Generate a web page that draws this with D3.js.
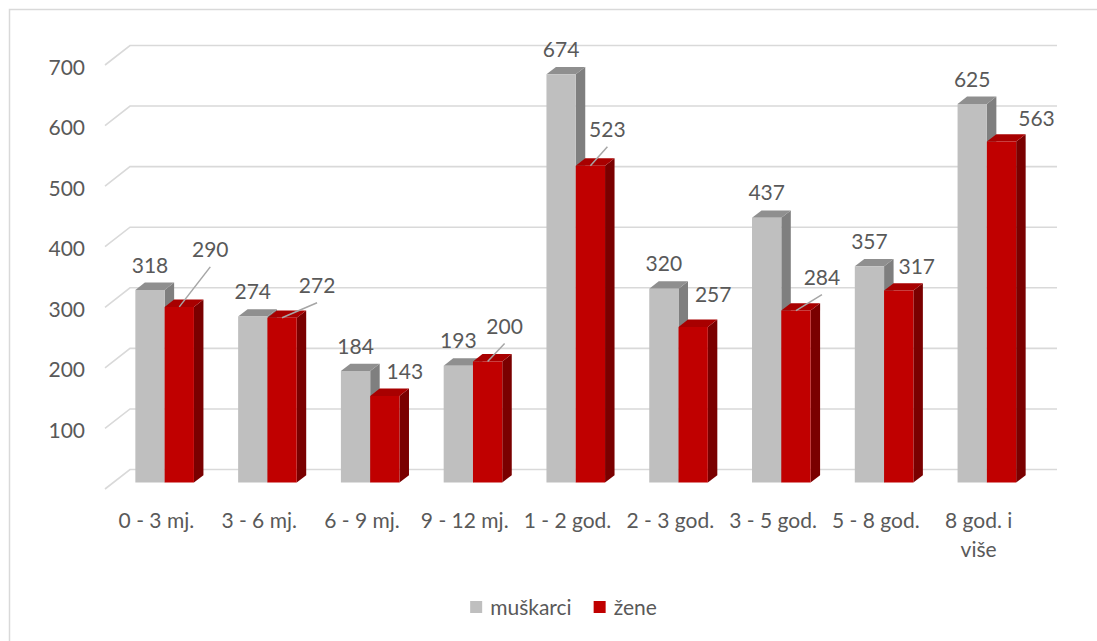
<!DOCTYPE html>
<meta charset="utf-8" />
<style>
  body { margin: 0; background: #fff; }
  text { font-family: Lato, "Open Sans", sans-serif; fill: #595959; }
  .grid { fill: none; stroke: #d9d9d9; stroke-width: 1.6px; }
  .leader { stroke: #a6a6a6; stroke-width: 1.5px; }
</style>
<body>
<script src="https://d3js.org/d3.v7.min.js"></script>
<script>
  // data
  var categories = ['0 - 3 mj.', '3 - 6 mj.', '6 - 9 mj.', '9 - 12 mj.', '1 - 2 god.',
    '2 - 3 god.', '3 - 5 god.', '5 - 8 god.', '8 god. i|više'];
  var seriesNames = ['muškarci', 'žene'];
  var muskarci = [318, 274, 184, 193, 674, 320, 437, 357, 625];
  var zene = [290, 272, 143, 200, 523, 257, 284, 317, 563];
  var yTicks = [100, 200, 300, 400, 500, 600, 700];

  // labels of the red series were dragged in the original; offsets from default spot
  var zeneLabelShift = [[31, -32], [35, -7], [20, 0], [17, -10], [17, -11], [20, -7], [26, -8], [18, 1], [35, 2]];
  var zeneLeader = [true, true, false, true, true, false, true, false, false];

  var width = 1097, height = 641;
  var depth = { dx: 25, dy: -19.5 };   // full floor depth on screen
  var barZ0 = 0.33, barZ1 = 0.71;      // bars stand in the middle of the floor

  var colors = {
    'muškarci': { front: '#bfbfbf', top: '#8f8f8f', side: '#7f7f7f' },
    'žene': { front: '#c00000', top: '#a80000', side: '#7a0000' }
  };

  var svg = d3.select('body').append('svg')
    .attr('width', width)
    .attr('height', height);

  // chart border (right and bottom edges fall outside the shot)
  svg.append('path')
    .attr('d', 'M9.5,' + (height + 5) + 'V9.5H' + (width + 5))
    .attr('fill', 'none')
    .attr('stroke', '#d9d9d9')
    .attr('stroke-width', 1.5);

  var x = d3.scaleBand()
    .domain(categories)
    .range([105, 1030])
    .paddingInner(0.43)
    .paddingOuter(0.215);

  var xs = d3.scaleBand()
    .domain(seriesNames)
    .range([0, x.bandwidth()]);

  var y = d3.scaleLinear()
    .domain([0, 700])
    .range([489, 65]);

  function proj(px, v, z) {
    return [px + depth.dx * z, y(v) + depth.dy * z];
  }

  // gridlines: short diagonal on the side wall, then across the back wall
  var grid = svg.append('g');
  grid.selectAll('path')
    .data([0].concat(yTicks))
    .enter()
    .append('path')
    .attr('class', 'grid')
    .attr('d', function (v) {
      var a = proj(105, v, 0), b = proj(105, v, 1), c = proj(1032, v, 1);
      return 'M' + a + 'L' + b + 'L' + c;
    });

  // y tick labels
  svg.append('g').selectAll('text')
    .data(yTicks)
    .enter()
    .append('text')
    .attr('x', 85)
    .attr('y', function (v) { return y(v) + 2; })
    .attr('dy', '0.36em')
    .attr('text-anchor', 'end')
    .style('font-size', '21px')
    .text(function (v) { return v; });

  // bars
  var rows = [];
  categories.forEach(function (c, i) {
    rows.push({ cat: c, i: i, s: seriesNames[0], v: muskarci[i] });
    rows.push({ cat: c, i: i, s: seriesNames[1], v: zene[i] });
  });

  var bar = svg.append('g').selectAll('g')
    .data(rows)
    .enter()
    .append('g');

  function poly(pts) { return pts.map(function (p) { return p.join(','); }).join(' '); }

  bar.each(function (d) {
    var g = d3.select(this);
    var x0 = x(d.cat) + xs(d.s), x1 = x0 + xs.bandwidth();
    var c = colors[d.s];
    // side face
    g.append('polygon')
      .attr('fill', c.side)
      .attr('points', poly([proj(x1, 0, barZ0), proj(x1, 0, barZ1), proj(x1, d.v, barZ1), proj(x1, d.v, barZ0)]));
    // top face
    g.append('polygon')
      .attr('fill', c.top)
      .attr('points', poly([proj(x0, d.v, barZ0), proj(x0, d.v, barZ1), proj(x1, d.v, barZ1), proj(x1, d.v, barZ0)]));
    // front face
    g.append('polygon')
      .attr('fill', c.front)
      .attr('points', poly([proj(x0, 0, barZ0), proj(x1, 0, barZ0), proj(x1, d.v, barZ0), proj(x0, d.v, barZ0)]));
  });

  // data labels
  var labels = svg.append('g');
  rows.forEach(function (d) {
    var cx = x(d.cat) + xs(d.s) + xs.bandwidth() / 2;
    var top = proj(cx, d.v, barZ0);
    var lx = top[0], ly = top[1] - 25;
    if (d.s === 'žene') {
      lx += zeneLabelShift[d.i][0];
      ly += zeneLabelShift[d.i][1];
      if (zeneLeader[d.i]) {
        labels.append('line')
          .attr('class', 'leader')
          .attr('x1', lx).attr('y1', ly + 17)
          .attr('x2', top[0]).attr('y2', top[1]);
      }
    }
    labels.append('text')
      .attr('x', lx)
      .attr('y', ly)
      .attr('dy', '0.36em')
      .attr('text-anchor', 'middle')
      .style('font-size', '21px')
      .text(d.v);
  });

  // category labels, '|' splits a line
  var cat = svg.append('g').selectAll('text')
    .data(categories)
    .enter()
    .append('text')
    .attr('text-anchor', 'middle')
    .attr('x', function (c) { return x(c) - x.step() * x.paddingInner() / 2 + x.step() / 2; })
    .attr('y', 528)
    .style('font-size', '21px');

  cat.selectAll('tspan')
    .data(function (c) { return c.split('|'); })
    .enter()
    .append('tspan')
    .attr('x', function () { return d3.select(this.parentNode).attr('x'); })
    .attr('dy', function (t, j) { return j ? 29 : 0; })
    .text(function (t) { return t; });

  // legend
  var legend = svg.append('g');
  var lx = 0;
  seriesNames.forEach(function (s, k) {
    legend.append('rect')
      .attr('x', lx).attr('y', 601)
      .attr('width', 12).attr('height', 12)
      .attr('fill', colors[s].front);
    var t = legend.append('text')
      .attr('x', lx + 20)
      .attr('y', 607)
      .attr('dy', '0.36em')
      .style('font-size', '21px')
      .text(s);
    lx += 20 + t.node().getComputedTextLength() + 22;
  });
  var lw = lx - 22;
  legend.attr('transform', 'translate(' + (563.5 - lw / 2) + ',0)');
</script>
</body>
